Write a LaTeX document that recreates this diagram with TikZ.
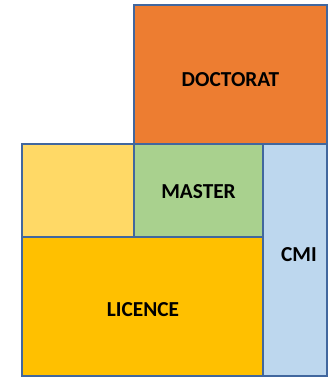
\documentclass[tikz,border=0pt]{standalone}
\usepackage{fontspec}
\setmainfont{Carlito}
\definecolor{bordc}{HTML}{41679E}
\definecolor{doc}{HTML}{ED7D31}
\definecolor{mas}{HTML}{A9D18E}
\definecolor{cmi}{HTML}{BDD7EE}
\definecolor{lyel}{HTML}{FFD966}
\definecolor{lic}{HTML}{FFC000}
\begin{document}
\begin{tikzpicture}[x=0.75pt,y=-0.75pt,
  blk/.style={draw=bordc,line width=1.5pt},
  lbl/.style={font=\fontsize{16}{19}\selectfont\bfseries,text=black,inner sep=0pt}]
\useasboundingbox (0,0) rectangle (329,377);
\fill[white] (0,0) rectangle (329,377);
\filldraw[blk,fill=doc] (134,5) rectangle (327,144);
\filldraw[blk,fill=lyel] (22,144) rectangle (134,237);
\filldraw[blk,fill=mas] (134,144) rectangle (263,237);
\filldraw[blk,fill=cmi] (263,144) rectangle (327,376);
\filldraw[blk,fill=lic] (22,237) rectangle (263,376);
\node[lbl] (doctorat) at (230.5,80) {DOCTORAT};
\node[lbl] (master) at (198.5,192) {MASTER};
\node[lbl] (cmi) at (299,255) {CMI};
\node[lbl] (licence) at (143,309.5) {LICENCE};
\end{tikzpicture}
\end{document}
